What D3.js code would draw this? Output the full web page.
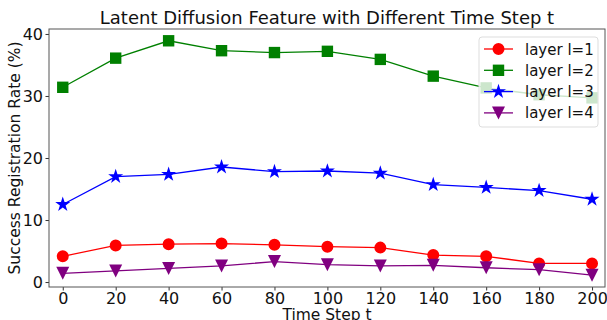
<!DOCTYPE html>
<html>
<head>
<meta charset="utf-8">
<script src="https://cdn.jsdelivr.net/npm/d3@7"></script>
<style>
  body { margin: 0; background: #fff; }
  text { font-family: "DejaVu Sans", sans-serif; fill: #111; }
</style>
</head>
<body>
<svg id="chart" width="607" height="320"></svg>
<script>
// time steps and success rates per layer
const steps = [0, 20, 40, 60, 80, 100, 120, 140, 160, 180, 200];
const layer1 = [4.15, 5.9, 6.1, 6.2, 6.0, 5.7, 5.55, 4.35, 4.15, 3.0, 3.0];
const layer2 = [31.4, 36.1, 38.9, 37.3, 37.0, 37.2, 35.9, 33.2, 31.3, 30.2, 29.7];
const layer3 = [12.5, 17.0, 17.35, 18.55, 17.8, 17.9, 17.55, 15.7, 15.25, 14.75, 13.35];
const layer4 = [1.4, 1.8, 2.2, 2.6, 3.3, 2.8, 2.6, 2.7, 2.3, 2.0, 1.1];
const xTicks = [0, 20, 40, 60, 80, 100, 120, 140, 160, 180, 200];
const yTicks = [0, 10, 20, 30, 40];

const series = [
  { name: 'layer l=1', values: layer1, color: '#ff0000', symbol: d3.symbolCircle, size: 113 },
  { name: 'layer l=2', values: layer2, color: '#008000', symbol: d3.symbolSquare, size: 130 },
  { name: 'layer l=3', values: layer3, color: '#0000ff', symbol: d3.symbolStar, size: 70 },
  { name: 'layer l=4', values: layer4, color: '#800080', symbol: 'tri', size: 6.5 }
];

const svg = d3.select('#chart');
const m = { left: 49, right: 605, top: 29, bottom: 287 };

const x = d3.scaleLinear().domain([-5.2, 204.9]).range([m.left, m.right]);
const y = d3.scaleLinear().domain([-0.8, 40.8]).range([m.bottom, m.top]);

// axes
const xAxis = svg.append('g')
  .attr('transform', `translate(0,${m.bottom})`)
  .call(d3.axisBottom(x).tickValues(xTicks).tickSize(3.5).tickPadding(2.5));
const yAxis = svg.append('g')
  .attr('transform', `translate(${m.left},0)`)
  .call(d3.axisLeft(y).tickValues(yTicks).tickSize(3.5).tickPadding(2.5));
[xAxis, yAxis].forEach(a => {
  a.select('.domain').remove();
  a.selectAll('line').attr('stroke', '#333');
  a.selectAll('text').style('font-size', '16px').attr('fill', '#111');
});

svg.append('rect')
  .attr('x', m.left).attr('y', m.top)
  .attr('width', m.right - m.left).attr('height', m.bottom - m.top)
  .attr('fill', 'none').attr('stroke', '#555').attr('stroke-width', 1);

const line = d3.line().x((d, i) => x(steps[i])).y(d => y(d));

function marker(g, s, cx, cy) {
  if (s.symbol === 'tri') {
    const r = s.size;
    g.append('path')
      .attr('d', `M${cx - r},${cy - r}L${cx + r},${cy - r}L${cx},${cy + r}Z`)
      .attr('fill', s.color);
  } else {
    g.append('path')
      .attr('d', d3.symbol(s.symbol, s.size)())
      .attr('transform', `translate(${cx},${cy})`)
      .attr('fill', s.color);
  }
}

series.forEach(s => {
  const g = svg.append('g');
  g.append('path')
    .attr('d', line(s.values))
    .attr('fill', 'none')
    .attr('stroke', s.color)
    .attr('stroke-width', 1.3);
  s.values.forEach((v, i) => marker(g, s, x(steps[i]), y(v)));
});

// title and axis labels
svg.append('text')
  .attr('x', (m.left + m.right) / 2).attr('y', 24)
  .attr('text-anchor', 'middle')
  .style('font-size', '18px')
  .text('Latent Diffusion Feature with Different Time Step t');

svg.append('text')
  .attr('transform', `translate(20,${(m.top + m.bottom) / 2}) rotate(-90)`)
  .attr('text-anchor', 'middle')
  .style('font-size', '15.5px')
  .text('Success Registration Rate (%)');

svg.append('text')
  .attr('x', (m.left + m.right) / 2).attr('y', 320)
  .attr('text-anchor', 'middle')
  .style('font-size', '15.5px')
  .text('Time Step t');

// legend
const lg = svg.append('g');
lg.append('rect')
  .attr('x', 479).attr('y', 37).attr('width', 119).attr('height', 90)
  .attr('rx', 3)
  .attr('fill', '#fff').attr('fill-opacity', 0.8)
  .attr('stroke', '#ddd');
series.forEach((s, i) => {
  const cy = 49 + i * 21.3;
  lg.append('line')
    .attr('x1', 484).attr('x2', 513).attr('y1', cy).attr('y2', cy)
    .attr('stroke', s.color).attr('stroke-width', 1.3);
  marker(lg, s, 498.5, cy);
  lg.append('text')
    .attr('x', 525).attr('y', cy + 5.5)
    .style('font-size', '15px')
    .text(s.name);
});
</script>
</body>
</html>
